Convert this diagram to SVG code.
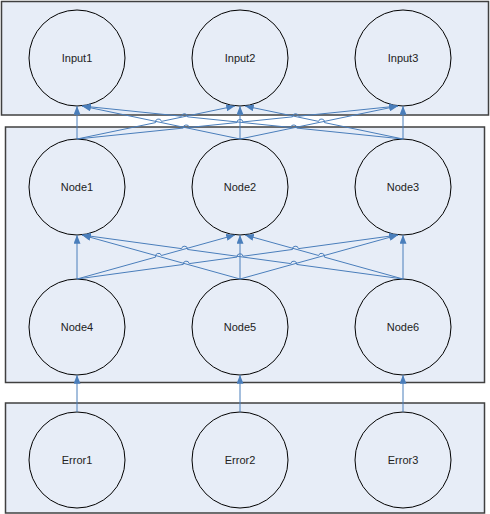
<svg xmlns="http://www.w3.org/2000/svg" width="490" height="514" viewBox="0 0 490 514">
<style>
.panel{fill:#E7EDF7;stroke:#404040;stroke-width:1.5}
.node circle{fill:#E7EDF7;stroke:#000;stroke-width:1}
.node text{font-family:"Liberation Sans",Arial,sans-serif;font-size:11px;fill:#222;text-anchor:middle}
.conn path{fill:none;stroke:#4A7EBB;stroke-width:1;marker-end:url(#arr)}
</style>
<defs>
<marker id="arr" viewBox="0 0 10 8" refX="10" refY="4" markerWidth="9" markerHeight="7" markerUnits="userSpaceOnUse" orient="auto">
<path d="M0,0 L10,4 L0,8 z" fill="#4A7EBB"/>
</marker>
</defs>
<rect class="panel" x="1.5" y="1.5" width="487" height="113.5"/>
<rect class="panel" x="5.5" y="127" width="479" height="255.5"/>
<rect class="panel" x="5.5" y="403" width="479" height="110"/>
<g id="Input1" class="node"><circle cx="77" cy="58" r="48"/><text x="77" y="62">Input1</text></g>
<g id="Input2" class="node"><circle cx="240" cy="58" r="48"/><text x="240" y="62">Input2</text></g>
<g id="Input3" class="node"><circle cx="403" cy="58" r="48"/><text x="403" y="62">Input3</text></g>
<g id="Node1" class="node"><circle cx="77" cy="187" r="48"/><text x="77" y="191">Node1</text></g>
<g id="Node2" class="node"><circle cx="240" cy="187" r="48"/><text x="240" y="191">Node2</text></g>
<g id="Node3" class="node"><circle cx="403" cy="187" r="48"/><text x="403" y="191">Node3</text></g>
<g id="Node4" class="node"><circle cx="77" cy="327" r="48"/><text x="77" y="331">Node4</text></g>
<g id="Node5" class="node"><circle cx="240" cy="327" r="48"/><text x="240" y="331">Node5</text></g>
<g id="Node6" class="node"><circle cx="403" cy="327" r="48"/><text x="403" y="331">Node6</text></g>
<g id="Error1" class="node"><circle cx="77" cy="460" r="48"/><text x="77" y="464">Error1</text></g>
<g id="Error2" class="node"><circle cx="240" cy="460" r="48"/><text x="240" y="464">Error2</text></g>
<g id="Error3" class="node"><circle cx="403" cy="460" r="48"/><text x="403" y="464">Error3</text></g>
<g id="connectors" class="conn">
<!-- Node1-3 to Input1-3 -->
<path d="M77,139 L77,106"/>
<path d="M240,139 L240,106"/>
<path d="M403,139 L403,106"/>
<path d="M77,139 L155.56,122.61 A3,3 0 0 1 161.44,121.39 L235,106"/>
<path d="M77,139 L183.26,128.08 A3,3 0 0 1 189.22,127.46 L237.02,122.55 A3,3 0 0 1 242.98,121.93 L292.49,116.85 A3,3 0 0 1 298.45,116.23 L398,106"/>
<path d="M240,139 L82,106"/>
<path d="M240,139 L398,106"/>
<path d="M403,139 L296.74,128.08 A3,3 0 0 0 290.78,127.46 L187.51,116.85 A3,3 0 0 0 181.55,116.23 L82,106"/>
<path d="M403,139 L324.44,122.59 A3,3 0 0 0 318.56,121.37 L245,106"/>
<!-- Node4-6 to Node1-3 -->
<path d="M77,279 L77,235"/>
<path d="M240,279 L240,235"/>
<path d="M403,279 L403,235"/>
<path d="M77,279 L155.61,257.11 A3,3 0 0 1 161.39,255.5 L235,235"/>
<path d="M77,279 L183.27,264.44 A3,3 0 0 1 189.21,263.62 L237.03,257.07 A3,3 0 0 1 242.97,256.25 L292.5,249.46 A3,3 0 0 1 298.44,248.64 L398,235"/>
<path d="M240,279 L82,235"/>
<path d="M240,279 L398,235"/>
<path d="M403,279 L296.73,264.44 A3,3 0 0 0 290.79,263.62 L187.5,249.46 A3,3 0 0 0 181.56,248.64 L82,235"/>
<path d="M403,279 L324.39,257.11 A3,3 0 0 0 318.61,255.5 L245,235"/>
<!-- Error1-3 to Node4-6 -->
<path d="M77,412 L77,375"/>
<path d="M240,412 L240,375"/>
<path d="M403,412 L403,375"/>
</g>
</svg>
